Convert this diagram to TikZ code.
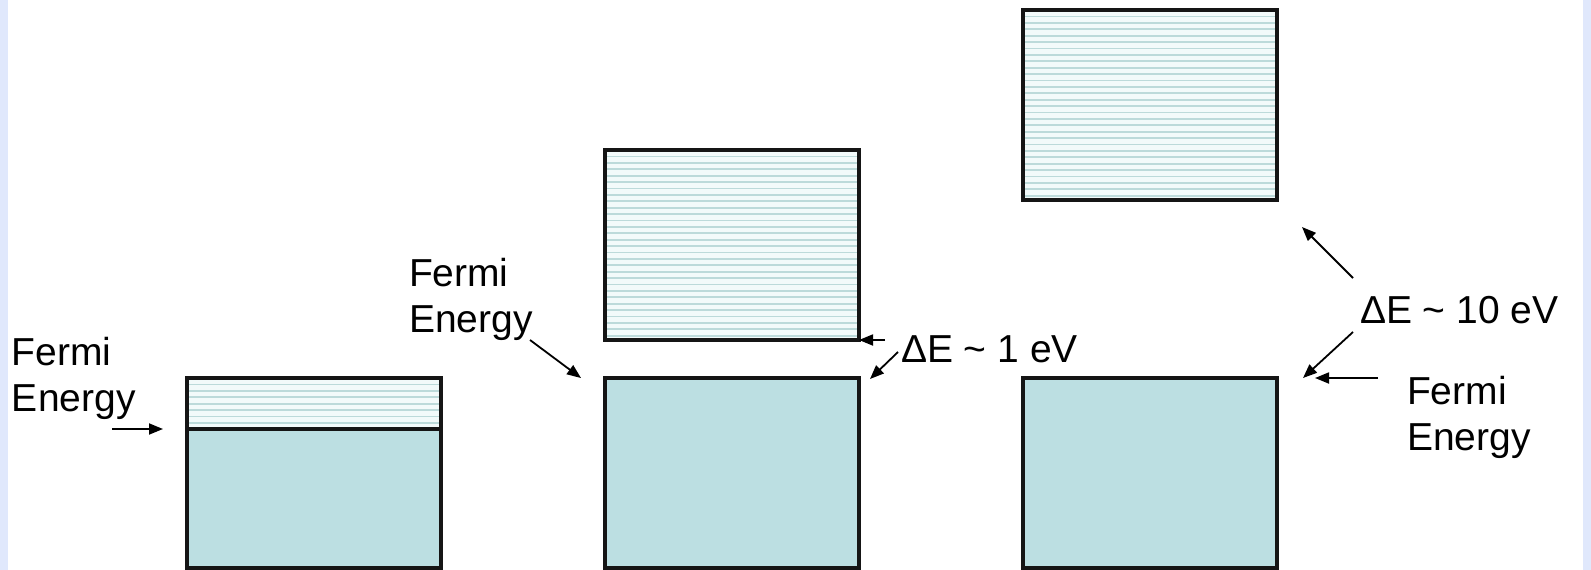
\documentclass[tikz,border=0pt]{standalone}
\usepackage{fontspec}
\setmainfont{Liberation Sans}
\usetikzlibrary{arrows.meta}

\definecolor{sidebar}{HTML}{E0E8FC}
\definecolor{filled}{HTML}{BCDFE2}
\definecolor{emptybg}{HTML}{F2FAFA}
\definecolor{levelline}{HTML}{BCDADA}
\definecolor{edge}{HTML}{151515}

\tikzset{
  bandbox/.style={draw=edge, line width=3.2pt, rectangle, inner sep=0pt, outer sep=0pt,
    minimum width=254pt, anchor=north west},
  fullband/.style={bandbox, fill=filled},
  emptyband/.style={bandbox, fill=emptybg,
    path picture={
      \foreach \k in {1,...,40}{
        \draw[levelline, line width=1.8pt]
          ([yshift=-\k*6.4pt]path picture bounding box.north west) --
          ([yshift=-\k*6.4pt]path picture bounding box.north east);
      }
    }},
  label/.style={inner sep=0pt, outer sep=0pt, align=left, font=\fontsize{39}{46}\selectfont},
  pointer/.style={line width=1.8pt, -{Triangle[length=14pt,width=11pt]}}
}

\begin{document}
\begin{tikzpicture}[x=1pt, y=-1pt]
  % page area and the pale side strips
  \useasboundingbox (0,0) rectangle (1591,570);
  \fill[white] (0,0) rectangle (1591,570);
  \fill[sidebar] (0,0) rectangle (8,570);
  \fill[sidebar] (1583,0) rectangle (1591,570);

  % metal: partly filled band
  \node[emptyband, minimum height=51pt] (metalempty) at (187,378) {};
  \node[fullband, minimum height=139pt] (metalfull) at (187,429) {};

  % semiconductor: small gap
  \node[emptyband, minimum height=190pt] (semicond) at (605,150) {};
  \node[fullband, minimum height=190pt] (semival) at (605,378) {};

  % insulator: large gap
  \node[emptyband, minimum height=190pt] (inscond) at (1023,10) {};
  \node[fullband, minimum height=190pt] (insval) at (1023,378) {};

  % labels
  \node[label, anchor=north west] (fermiA) at (12,337) {Fermi\\Energy};
  \node[label, anchor=north west] (fermiB) at (409,258) {Fermi\\Energy};
  \node[label, anchor=north west] (fermiC) at (1407,376) {Fermi\\Energy};
  \node[label, anchor=base west] (gapsmall) at (901,362) {ΔE \textasciitilde{} 1 eV};
  \node[label, anchor=base west] (gaplarge) at (1360,323) {ΔE \textasciitilde{} 10 eV};

  % arrow end points
  \coordinate (tA0) at (112,429);
  \coordinate (tA1) at (163,429);
  \coordinate (tB0) at (530,340);
  \coordinate (tB1) at (581,378);
  \coordinate (tS0) at (885,340);
  \coordinate (tS1) at (859,340);
  \coordinate (tS2) at (898,352);
  \coordinate (tS3) at (870,379);
  \coordinate (tL0) at (1353,278);
  \coordinate (tL1) at (1302,227);
  \coordinate (tL2) at (1353,332);
  \coordinate (tL3) at (1303,378);
  \coordinate (tC0) at (1378,378);
  \coordinate (tC1) at (1315,378);

  % pointers
  \draw[pointer] (tA0) -- (tA1);
  \draw[pointer] (tB0) -- (tB1);
  \draw[pointer] (tS0) -- (tS1);
  \draw[pointer] (tS2) -- (tS3);
  \draw[pointer] (tL0) -- (tL1);
  \draw[pointer] (tL2) -- (tL3);
  \draw[pointer] (tC0) -- (tC1);
\end{tikzpicture}
\end{document}
